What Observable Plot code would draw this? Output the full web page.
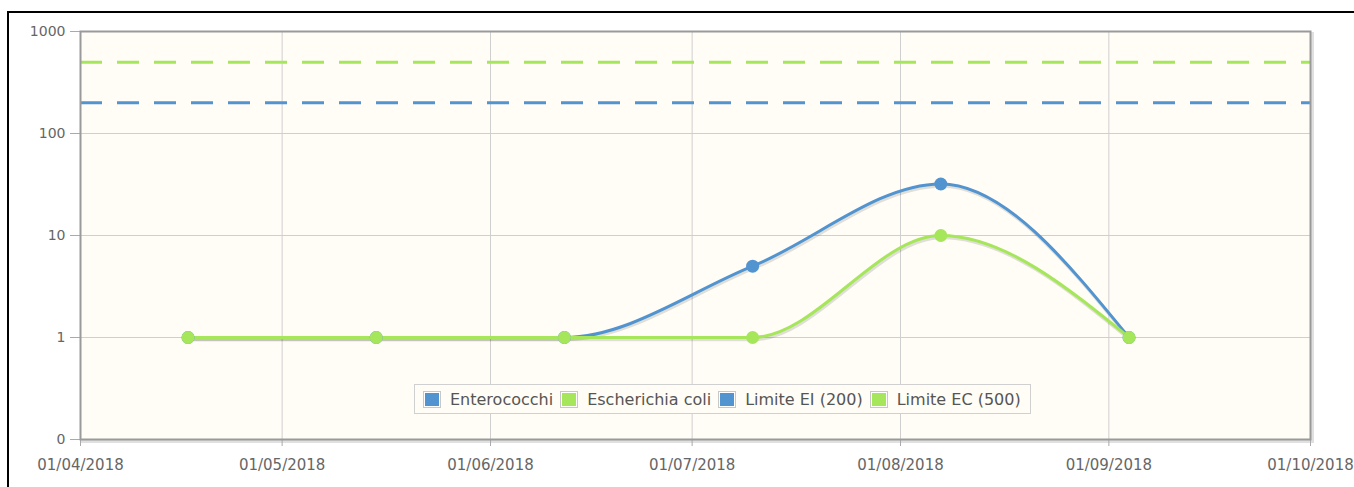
<!DOCTYPE html>
<html>
<head>
<meta charset="utf-8">
<script src="https://cdn.jsdelivr.net/npm/d3@7"></script>
<script src="https://cdn.jsdelivr.net/npm/@observablehq/plot@0.6"></script>
<style>
  html, body { margin: 0; padding: 0; background: #fff; }
  #wrap { position: relative; width: 1354px; height: 487px; overflow: hidden; }
  #bt { position: absolute; left: 8px; top: 11px; width: 1346px; height: 2px; background: #000; }
  #bl { position: absolute; left: 7px; top: 11px; width: 2px; height: 476px; background: #000; }
  #legend { position: absolute; left: 414px; top: 384px; height: 30px; box-sizing: border-box;
    border: 1px solid #d0d0d0; background: #fffdf6; display: flex; align-items: center;
    padding: 0 9px 0 8px; font-family: "DejaVu Sans", sans-serif; font-size: 16px; color: #555; white-space: nowrap; }
  .sw { width: 18px; height: 17px; box-sizing: border-box; border: 1px solid #c8c8c8; padding: 1px; background: #fff; margin-right: 9px; }
  .sw > div { width: 100%; height: 100%; }
  .it { display: flex; align-items: center; margin-right: 7px; }
  .it:last-child { margin-right: 0; }
</style>
</head>
<body>
<div id="wrap">
  <div id="chart"></div>
  <div id="bt"></div>
  <div id="bl"></div>
  <div id="legend"></div>
</div>
<script>
// ---- data ----
const sampleDates = ["2018-04-17", "2018-05-15", "2018-06-12", "2018-07-10", "2018-08-07", "2018-09-04"];
const enterococchi = [1, 1, 1, 5, 32, 1];
const escherichiaColi = [1, 1, 1, 1, 10, 1];
const limiteEI = 200;
const limiteEC = 500;
const seriesNames = ["Enterococchi", "Escherichia coli", "Limite EI (200)", "Limite EC (500)"];
const xTickDates = ["2018-04-01", "2018-05-01", "2018-06-01", "2018-07-01", "2018-08-01", "2018-09-01", "2018-10-01"];
const yTickValues = [0.1, 1, 10, 100, 1000];
const yTickLabels = ["0", "1", "10", "100", "1000"];

const BLUE = "#5294d0";
const GREEN = "#a6e65b";
const seriesColors = [BLUE, GREEN, BLUE, GREEN];

const parse = d3.utcParse("%Y-%m-%d");
const entData = sampleDates.map((d, i) => ({date: parse(d), value: enterococchi[i]}));
const ecData = sampleDates.map((d, i) => ({date: parse(d), value: escherichiaColi[i]}));
const xTicks = xTickDates.map(parse);
const fmt = d3.utcFormat("%d/%m/%Y");
const yLabel = new Map(yTickValues.map((v, i) => [v, yTickLabels[i]]));

const chart = Plot.plot({
  width: 1354,
  height: 487,
  marginLeft: 80,
  marginRight: 44,
  marginTop: 31,
  marginBottom: 48,
  style: {background: "transparent", fontFamily: "DejaVu Sans, sans-serif", color: "#666", overflow: "visible"},
  x: {type: "utc", domain: [xTicks[0], xTicks[xTicks.length - 1]], label: null},
  y: {type: "log", domain: [yTickValues[0], yTickValues[yTickValues.length - 1]], label: null},
  marks: [
    // frame shadow
    Plot.frame({stroke: "#000", strokeOpacity: 0.12, strokeWidth: 3, dx: 2, dy: 2}),
    Plot.frame({fill: "#fffdf6", stroke: "none"}),
    Plot.gridX(xTicks, {stroke: "#cfcfcf", strokeOpacity: 1, strokeWidth: 1}),
    Plot.gridY(yTickValues, {stroke: "#cfcfcf", strokeOpacity: 1, strokeWidth: 1}),
    Plot.ruleY([limiteEC], {stroke: GREEN, strokeWidth: 3, strokeDasharray: "22,15"}),
    Plot.ruleY([limiteEI], {stroke: BLUE, strokeWidth: 3, strokeDasharray: "22,15"}),
    // line shadows
    Plot.line(entData, {x: "date", y: "value", curve: "monotone-x", stroke: "#000", strokeOpacity: 0.12, strokeWidth: 3.5, dx: 1, dy: 2}),
    Plot.line(ecData, {x: "date", y: "value", curve: "monotone-x", stroke: "#000", strokeOpacity: 0.12, strokeWidth: 3.5, dx: 1, dy: 2}),
    Plot.line(entData, {x: "date", y: "value", curve: "monotone-x", stroke: BLUE, strokeWidth: 3}),
    Plot.line(ecData, {x: "date", y: "value", curve: "monotone-x", stroke: GREEN, strokeWidth: 3}),
    Plot.dot(entData, {x: "date", y: "value", fill: BLUE, r: 6.5}),
    Plot.dot(ecData, {x: "date", y: "value", fill: GREEN, r: 6.5}),
    Plot.axisX(xTicks, {tickFormat: fmt, fontSize: 15, tickSize: 7, tickPadding: 13, stroke: "#aaa", fill: "#666", label: null}),
    Plot.axisY(yTickValues, {tickFormat: d => yLabel.get(d), fontSize: 14, tickSize: 10, tickPadding: 5, stroke: "#aaa", fill: "#666", label: null}),
    Plot.frame({stroke: "#9a9a9a", strokeWidth: 2})
  ]
});
document.getElementById("chart").appendChild(chart);

// legend
const legend = document.getElementById("legend");
seriesNames.forEach((name, i) => {
  const it = document.createElement("div");
  it.className = "it";
  const sw = document.createElement("div");
  sw.className = "sw";
  const inner = document.createElement("div");
  inner.style.background = seriesColors[i];
  sw.appendChild(inner);
  const t = document.createElement("span");
  t.textContent = name;
  it.appendChild(sw);
  it.appendChild(t);
  legend.appendChild(it);
});
</script>
</body>
</html>
